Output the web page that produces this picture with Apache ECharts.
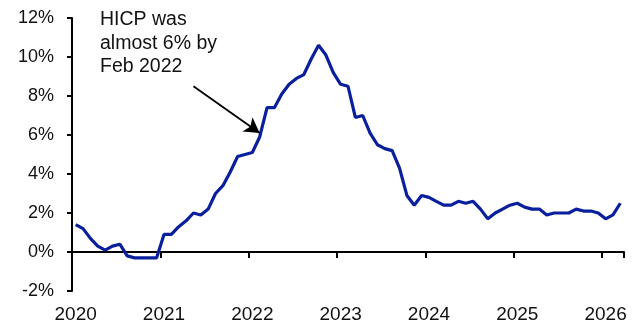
<!DOCTYPE html>
<html>
<head>
<meta charset="utf-8">
<script src="https://cdn.jsdelivr.net/npm/echarts@6/dist/echarts.min.js"></script>
<style>html,body{margin:0;padding:0;background:#fff}#c{width:640px;height:329px}</style>
</head>
<body>
<div id="c"></div>
<script>
// Monthly categories Jan 2020 .. Mar 2026
const years = [2020, 2021, 2022, 2023, 2024, 2025, 2026];
const months = [];
years.forEach(y => { for (let m = 1; m <= 12; m++) { if (y === 2026 && m > 3) break; months.push(y + '-' + (m < 10 ? '0' + m : m)); } });

// Euro area HICP inflation, % y/y
const hicp = [
  1.4, 1.2, 0.7, 0.3, 0.1, 0.3, 0.4, -0.2, -0.3, -0.3, -0.3, -0.3,
  0.9, 0.9, 1.3, 1.6, 2.0, 1.9, 2.2, 3.0, 3.4, 4.1, 4.9, 5.0,
  5.1, 5.9, 7.4, 7.4, 8.1, 8.6, 8.9, 9.1, 9.9, 10.6, 10.1, 9.2,
  8.6, 8.5, 6.9, 7.0, 6.1, 5.5, 5.3, 5.2, 4.3, 2.9, 2.4, 2.9,
  2.8, 2.6, 2.4, 2.4, 2.6, 2.5, 2.6, 2.2, 1.7, 2.0, 2.2, 2.4,
  2.5, 2.3, 2.2, 2.2, 1.9, 2.0, 2.0, 2.0, 2.2, 2.1, 2.1, 2.0,
  1.7, 1.9, 2.5
];

const yTicks = [-2, 0, 2, 4, 6, 8, 10, 12];
const annotationText = 'HICP was\nalmost 6% by\nFeb 2022';
// arrow endpoints in data space: [month index, value]
const arrowFrom = [15.6, 8.5];
const arrowTo = [24.55, 6.1];

const font = '"Liberation Sans", Arial, sans-serif';
const chart = echarts.init(document.getElementById('c'), null, { renderer: 'canvas' });

chart.setOption({
  animation: false,
  grid: { left: 72, right: 16, top: 18, bottom: 38, containLabel: false },
  xAxis: [
    {
      type: 'category', data: months, boundaryGap: true, position: 'bottom',
      axisLine: { show: false, onZero: false }, axisTick: { show: false },
      axisLabel: {
        interval: 11, margin: 14, fontSize: 19, fontFamily: font, color: '#111',
        formatter: v => v.slice(0, 4)
      },
      splitLine: { show: false }
    },
    {
      type: 'category', data: months, boundaryGap: true, position: 'bottom',
      axisLine: { show: true, onZero: true, onZeroAxisIndex: 0, lineStyle: { color: '#000', width: 2 } },
      axisTick: { show: true, interval: 11, length: 6, lineStyle: { color: '#000', width: 2 } },
      axisLabel: { show: false },
      splitLine: { show: false }
    }
  ],
  yAxis: {
    type: 'value', min: -2, max: 12, interval: 2,
    axisLine: { show: true, onZero: false, lineStyle: { color: '#000', width: 2 } },
    axisTick: { show: true, length: 5, lineStyle: { color: '#000', width: 2 } },
    axisLabel: { margin: 18, fontSize: 18, fontFamily: font, color: '#111', formatter: v => yTicks.includes(v) ? v + '%' : '' },
    splitLine: { show: false }
  },
  series: [{
    type: 'line', data: hicp, xAxisIndex: 0, showSymbol: false, smooth: false,
    lineStyle: { color: '#0a1f9c', width: 3.2 },
    markLine: {
      silent: true, symbol: ['none', 'arrow'], symbolSize: [13, 15],
      label: { show: false },
      lineStyle: { color: '#000', width: 1.8, type: 'solid' },
      data: [[{ coord: arrowFrom }, { coord: arrowTo }]]
    }
  }],
  graphic: [{
    type: 'text', left: 100, top: 8,
    style: { text: annotationText, font: '19.5px ' + font, fill: '#111', lineHeight: 23.5 }
  }]
});
</script>
</body>
</html>
